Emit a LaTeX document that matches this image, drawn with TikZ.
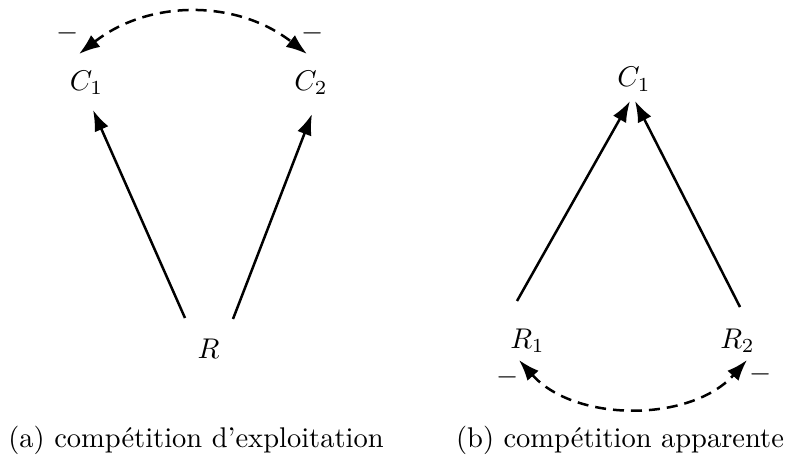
\documentclass[tikz,border=0pt]{standalone}
\usepackage{fontspec}
\usetikzlibrary{arrows.meta}
\begin{document}
\begin{tikzpicture}[x=1pt,y=-1pt,
  lbl/.style={inner sep=0pt, anchor=base, scale=2.85},
  sgn/.style={inner sep=0pt, anchor=center, scale=2.85},
  arr/.style={line width=2.5pt, -{Latex[length=21pt,width=15pt]}},
  darr/.style={line width=2.5pt, dash pattern=on 11pt off 7pt,
    {Latex[length=21pt,width=15pt]}-{Latex[length=21pt,width=15pt]}},
  captxt/.style={inner sep=0pt, anchor=base, scale=2.85}]
\useasboundingbox (0,0) rectangle (790,460);

% (a)
\node[lbl] (C1) at (86.5,90) {$C_1$};
\node[lbl] (C2) at (311,90) {$C_2$};
\node[lbl] (R) at (208.5,358) {$R$};
\node[sgn] (mA1) at (68,33) {$-$};
\node[sgn] (mA2) at (313,33) {$-$};
\coordinate (a1s) at (185,318);
\coordinate (a1e) at (93,110);
\coordinate (a2s) at (233,319);
\coordinate (a2e) at (312,114);
\coordinate (d1) at (79,54);
\coordinate (d2) at (307,54);
\draw[arr] (a1s) -- (a1e);
\draw[arr] (a2s) -- (a2e);
\draw[darr] (d1) .. controls (149,-0.7) and (237,-0.7) .. (d2);
\node[captxt] (capA) at (196,447) {(a) compétition d'exploitation};

% (b)
\node[lbl] (D1) at (634,87) {$C_1$};
\node[lbl] (S1) at (527.5,348) {$R_1$};
\node[lbl] (S2) at (737.5,348) {$R_2$};
\node[sgn] (mB1) at (508,377) {$-$};
\node[sgn] (mB2) at (761,374) {$-$};
\coordinate (b1s) at (517,301);
\coordinate (b1e) at (630,101);
\coordinate (b2s) at (740,307);
\coordinate (b2e) at (635,101);
\coordinate (e1) at (519,360);
\coordinate (e2) at (747,360);
\draw[arr] (b1s) -- (b1e);
\draw[arr] (b2s) -- (b2e);
\draw[darr] (e1) .. controls (575,422.7) and (691,422.7) .. (e2);
\node[captxt] (capB) at (620,447) {(b) compétition apparente};
\end{tikzpicture}
\end{document}
